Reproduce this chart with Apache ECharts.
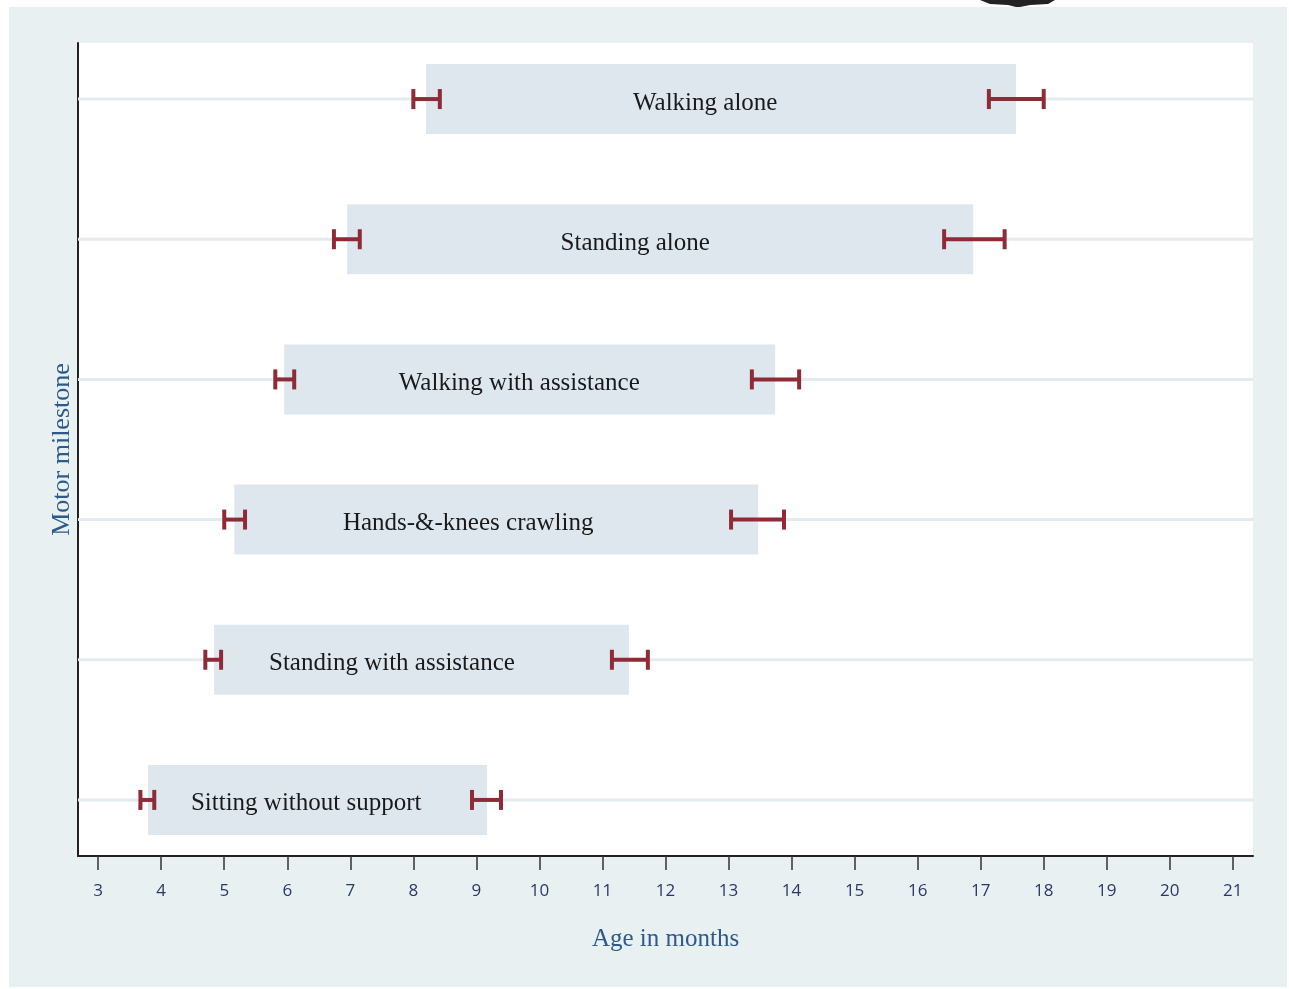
<!DOCTYPE html>
<html>
<head>
<meta charset="utf-8">
<script src="https://cdn.jsdelivr.net/npm/echarts@6/dist/echarts.min.js"></script>
<style>
  html, body { margin: 0; padding: 0; background: #fff; }
  #chart { width: 1289px; height: 989px; }
</style>
</head>
<body>
<div id="chart"></div>
<script>
// bottom to top
const milestones = ['Sitting without support', 'Standing with assistance', 'Hands-&-knees crawling',
  'Walking with assistance', 'Standing alone', 'Walking alone']
const boxStart = [3.79, 4.84, 5.16, 5.95, 6.95, 8.20]
const boxEnd = [9.17, 11.42, 13.47, 13.74, 16.88, 17.56]
const labelAt = [6.30, 7.66, 8.87, 9.68, 11.52, 12.63]
const lowCiFrom = [3.67, 4.70, 5.00, 5.81, 6.74, 8.00]
const lowCiTo = [3.89, 4.95, 5.33, 6.11, 7.15, 8.42]
const highCiFrom = [8.93, 11.15, 13.04, 13.37, 16.42, 17.13]
const highCiTo = [9.39, 11.72, 13.88, 14.12, 17.38, 18.00]
const ageTicks = [3, 4, 5, 6, 7, 8, 9, 10, 11, 12, 13, 14, 15, 16, 17, 18, 19, 20, 21]

const boxData = milestones.map((m, i) => [boxStart[i], boxEnd[i], i + 1, labelAt[i], m])
const ciData = []
milestones.forEach((m, i) => {
    ciData.push([lowCiFrom[i], lowCiTo[i], i + 1])
    ciData.push([highCiFrom[i], highCiTo[i], i + 1])
})

const chart = echarts.init(document.getElementById('chart'))

function renderBox(params, api) {
    const a = api.coord([api.value(0), api.value(2)])
    const b = api.coord([api.value(1), api.value(2)])
    const t = api.coord([api.value(3), api.value(2)])
    const cs = params.coordSys
    const h = 70
    return {
        type: 'group',
        children: [{
            type: 'rect',
            shape: { x: cs.x, y: a[1] - 1.5, width: cs.width, height: 3 },
            style: { fill: '#e3ebef' },
            z2: 1
        }, {
            type: 'rect',
            shape: { x: a[0], y: a[1] - h / 2, width: b[0] - a[0], height: h },
            style: { fill: '#dfe7ee' },
            z2: 2
        }, {
            type: 'text',
            x: t[0],
            y: t[1] + 4,
            style: {
                text: api.value(4),
                align: 'center',
                verticalAlign: 'middle',
                fill: '#1a1a1a',
                font: '25px "Liberation Serif", "DejaVu Serif", serif'
            },
            z2: 3
        }]
    }
}

function renderCi(params, api) {
    const a = api.coord([api.value(0), api.value(2)])
    const b = api.coord([api.value(1), api.value(2)])
    const cap = 10
    const st = { stroke: '#8e2b37', lineWidth: 4 }
    return {
        type: 'group',
        children: [
            { type: 'line', shape: { x1: a[0], y1: a[1], x2: b[0], y2: b[1] }, style: st },
            { type: 'line', shape: { x1: a[0], y1: a[1] - cap, x2: a[0], y2: a[1] + cap }, style: st },
            { type: 'line', shape: { x1: b[0], y1: b[1] - cap, x2: b[0], y2: b[1] + cap }, style: st }
        ]
    }
}

chart.setOption({
    animation: false,
    backgroundColor: '#fff',
    graphic: [{
        type: 'rect',
        left: 9,
        top: 7,
        shape: { width: 1278, height: 980 },
        style: { fill: '#e8f0f2' },
        z: -10
    }, {
        type: 'polygon',
        shape: { points: [[980, 0], [1055, 0], [1048, 4], [1030, 5], [1020, 7], [1016, 7], [1008, 5], [990, 4]] },
        style: { fill: '#222' },
        z: -5
    }],
    grid: {
        left: 78,
        right: 36,
        top: 43,
        bottom: 133,
        show: true,
        backgroundColor: '#fff',
        borderWidth: 0,
        containLabel: false
    },
    xAxis: {
        type: 'value',
        min: 2.68,
        max: 21.32,
        name: 'Age in months',
        nameLocation: 'middle',
        nameGap: 71,
        nameTextStyle: {
            color: '#2d5a88',
            fontSize: 25,
            fontFamily: '"Liberation Serif", serif'
        },
        axisLine: { show: true, onZero: false, lineStyle: { color: '#222', width: 2 } },
        axisTick: {
            show: true,
            length: 14,
            customValues: ageTicks,
            lineStyle: { color: '#333', width: 1.5 }
        },
        axisLabel: {
            customValues: ageTicks,
            margin: 27,
            color: '#2a3868',
            fontSize: 17,
            fontFamily: '"Open Sans", sans-serif'
        },
        splitLine: { show: false }
    },
    yAxis: {
        type: 'value',
        min: 0.6,
        max: 6.4,
        name: 'Motor milestone',
        nameLocation: 'middle',
        nameGap: 3,
        nameTextStyle: {
            color: '#2d5a88',
            fontSize: 26,
            fontFamily: '"Liberation Serif", serif'
        },
        axisLine: { show: true, onZero: false, lineStyle: { color: '#222', width: 2 } },
        axisTick: { show: false },
        axisLabel: { show: false },
        splitLine: { show: false }
    },
    series: [{
        type: 'custom',
        renderItem: renderBox,
        encode: { x: [0, 1], y: 2 },
        data: boxData,
        z: 2
    }, {
        type: 'custom',
        renderItem: renderCi,
        encode: { x: [0, 1], y: 2 },
        data: ciData,
        z: 3
    }]
})
</script>
</body>
</html>
